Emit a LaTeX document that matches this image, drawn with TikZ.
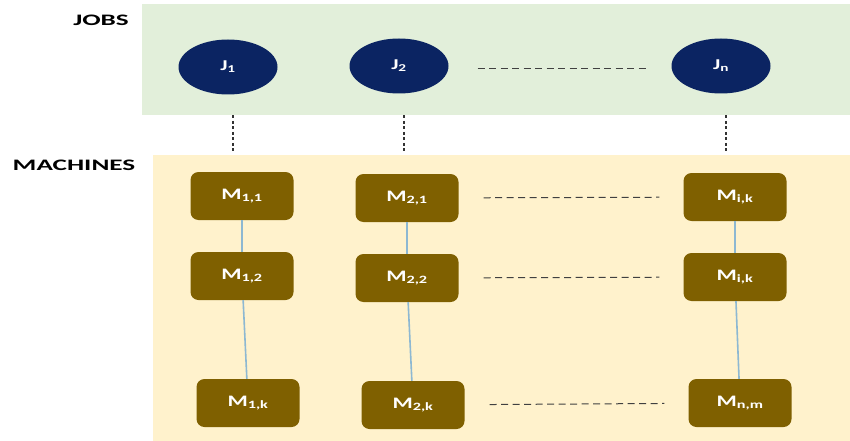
\documentclass[tikz,border=0pt]{standalone}
\usepackage{fontspec}
\setmainfont{Carlito}
\newfontfamily\headfont{Carlito}[FakeStretch=1.7]
\newfontfamily\boxfont{Carlito}[FakeStretch=1.45]
\usepackage{tikz}
\usetikzlibrary{calc,positioning,shapes}

\definecolor{jobgreen}{HTML}{E2EFDA}
\definecolor{machcream}{HTML}{FFF2CC}
\definecolor{jobnavy}{HTML}{0B2462}
\definecolor{machbrown}{HTML}{7F6000}
\definecolor{chainblue}{HTML}{8DB8D2}

\begin{document}
\begin{tikzpicture}[x=1pt, y=-1pt]
\tikzstyle{band}=[anchor=north west, inner sep=0pt]
\tikzstyle{job}=[ellipse, fill=jobnavy, text=white, inner sep=0pt,
                 minimum width=99pt, minimum height=55pt, font=\boxfont\fontsize{15}{15}\selectfont\bfseries]
\tikzstyle{mach}=[rectangle, rounded corners=8pt, fill=machbrown, text=white, inner sep=0pt,
                  minimum width=103pt, minimum height=48pt, font=\boxfont\fontsize{16}{16}\selectfont\bfseries]
\tikzstyle{head}=[inner sep=0pt, font=\headfont\fontsize{16}{16}\selectfont\bfseries]
\tikzstyle{vdash}=[line width=2pt, draw=black!80, dash pattern=on 3pt off 2.5pt]
\tikzstyle{hdash}=[line width=1pt, draw=black!75, dash pattern=on 7pt off 4.5pt]
\tikzstyle{chain}=[line width=1.6pt, draw=chainblue]
\fill[white] (0,0) rectangle (850,441);
\useasboundingbox (0,0) rectangle (850,441);
% the two bands
\node[band, fill=jobgreen, minimum width=708pt, minimum height=111pt] (jobsbg) at (142,4) {};
\node[band, fill=machcream, minimum width=697pt, minimum height=286pt] (machbg) at (153,155) {};
\node[head] (jobs) at (101,20) {JOBS};
\node[head] (machines) at (74,165) {MACHINES};
% jobs
\node[job] (J1) at (228,67) {J\textsubscript{1}};
\node[job] (J2) at (399,66) {J\textsubscript{2}};
\node[job] (Jn) at (721,66) {J\textsubscript{n}};
% machines, one column per job
\node[mach] (M11) at (242,196) {M\textsubscript{1,1}};
\node[mach] (M12) at (242,276) {M\textsubscript{1,2}};
\node[mach] (M1k) at (248,403) {M\textsubscript{1,k}};
\node[mach] (M21) at (407,198) {M\textsubscript{2,1}};
\node[mach] (M22) at (407,278) {M\textsubscript{2,2}};
\node[mach] (M2k) at (413,405) {M\textsubscript{2,k}};
\node[mach] (Mi1) at (735,197) {M\textsubscript{i,k}};
\node[mach] (Mi2) at (735,277) {M\textsubscript{i,k}};
\node[mach] (Mnm) at (740,403) {M\textsubscript{n,m}};
\foreach \i/\j in {M11/M12,M12/M1k,M21/M22,M22/M2k,Mi1/Mi2,Mi2/Mnm}{\draw[chain] (\i) -- (\j);}
\draw[hdash] ($(J2.east)+(29,3)$) -- ($(Jn.west)+(-22,3)$);
\foreach \i/\j in {M21/Mi1,M22/Mi2,M2k/Mnm}{\draw[hdash, shorten <=25pt, shorten >=24pt] (\i) -- (\j);}
\foreach \i in {J1,J2,Jn}{\draw[vdash] ($(\i.south |- jobsbg.south)+(5,0)$) -- ($(\i.south |- machbg.north)+(5,-2)$);}
\end{tikzpicture}
\end{document}
